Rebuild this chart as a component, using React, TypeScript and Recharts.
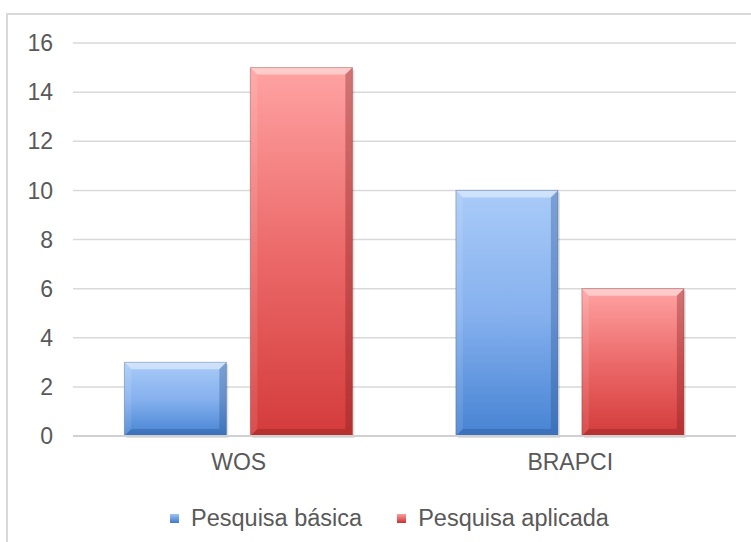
import { BarChart, Bar, XAxis, YAxis, CartesianGrid, Legend } from "recharts";

const categories = ["WOS", "BRAPCI"];
const basica = [3, 10];
const aplicada = [15, 6];
const yTicks = [0, 2, 4, 6, 8, 10, 12, 14, 16];

const seriesNames = { basica: "Pesquisa básica", aplicada: "Pesquisa aplicada" };

const data = categories.map((name, i) => ({
  name,
  basica: basica[i],
  aplicada: aplicada[i],
}));

const textColor = "#595959";
const font = "'Liberation Sans', Arial, sans-serif";

// bar with a soft bevel, like the office 3D style
function BevelBar(props: any) {
  const { x, y, width, height, gradId, edge } = props;
  if (!height || height <= 0) return null;
  const b = Math.min(7, height / 3);
  return (
    <g>
      <rect x={x + 2} y={y + 2} width={width} height={height} fill="rgba(0,0,0,0.12)" />
      <rect x={x} y={y} width={width} height={height} fill={`url(#${gradId})`} />
      <polygon
        points={`${x},${y} ${x + width},${y} ${x + width - b},${y + b} ${x + b},${y + b}`}
        fill="rgba(255,255,255,0.45)"
      />
      <polygon
        points={`${x},${y} ${x + b},${y + b} ${x + b},${y + height - b} ${x},${y + height}`}
        fill="rgba(255,255,255,0.1)"
      />
      <polygon
        points={`${x + width},${y} ${x + width},${y + height} ${x + width - b},${y + height - b} ${x + width - b},${y + b}`}
        fill={edge}
      />
      <polygon
        points={`${x},${y + height} ${x + width},${y + height} ${x + width - b},${y + height - b} ${x + b},${y + height - b}`}
        fill={edge}
      />
      <rect x={x} y={y} width={width} height={height} fill="none" stroke={edge} strokeWidth={1} />
    </g>
  );
}

function LegendContent() {
  const items = [
    { label: seriesNames.basica, c1: "#9ec4f5", c2: "#3f79c8" },
    { label: seriesNames.aplicada, c1: "#ff9c9c", c2: "#c83232" },
  ];
  return (
    <div style={{ display: "flex", alignItems: "center", height: 30, fontFamily: font, fontSize: 23.5, color: textColor, whiteSpace: "nowrap" }}>
      {items.map((it, i) => (
        <div key={it.label} style={{ display: "flex", alignItems: "center", marginRight: i === 0 ? 35 : 0 }}>
          <span
            style={{
              display: "inline-block",
              width: 9,
              height: 9,
              marginRight: 12,
              background: `linear-gradient(${it.c1}, ${it.c2})`,
            }}
          />
          <span>{it.label}</span>
        </div>
      ))}
    </div>
  );
}

export default function App() {
  return (
    <div
      style={{
        position: "absolute",
        left: 0,
        top: 0,
        width: 751,
        height: 542,
        overflow: "hidden",
        background: "#fff",
      }}
    >
      <div
        style={{
          position: "absolute",
          left: 6,
          top: 13,
          width: 800,
          height: 600,
          border: "2px solid #d9d9d9",
        }}
      />
      <div style={{ position: "absolute", left: 0, top: 0 }}>
        <BarChart
          width={751}
          height={542}
          data={data}
          margin={{ top: 43, right: 15, bottom: 26, left: 0 }}
          barCategoryGap="15.5%"
          barGap={24}
        >
          <defs>
            <linearGradient id="gBlue" x1="0" y1="0" x2="0" y2="1">
              <stop offset="0%" stopColor="#a9cbf8" />
              <stop offset="50%" stopColor="#86b1ee" />
              <stop offset="100%" stopColor="#4683d3" />
            </linearGradient>
            <linearGradient id="gRed" x1="0" y1="0" x2="0" y2="1">
              <stop offset="0%" stopColor="#ffa3a3" />
              <stop offset="50%" stopColor="#ec6a6a" />
              <stop offset="100%" stopColor="#d43b3b" />
            </linearGradient>
          </defs>
          <CartesianGrid vertical={false} stroke="#d9d9d9" strokeWidth={1.5} />
          <XAxis
            dataKey="name"
            height={50}
            tickLine={false}
            tickSize={0}
            tickMargin={18}
            axisLine={{ stroke: "#d0d0d0", strokeWidth: 2 }}
            tick={{ fill: textColor, fontSize: 23, fontFamily: font }}
          />
          <YAxis
            width={73}
            domain={[0, 16]}
            ticks={yTicks}
            tickLine={false}
            axisLine={false}
            tickSize={0}
            tickMargin={20}
            tick={{ fill: textColor, fontSize: 23, fontFamily: font }}
          />
          <Legend
            verticalAlign="bottom"
            content={() => <LegendContent />}
            wrapperStyle={{ top: 503, left: 170, width: "auto", height: 30 }}
          />
          <Bar
            dataKey="basica"
            name={seriesNames.basica}
            isAnimationActive={false}
            shape={(p: any) => <BevelBar {...p} gradId="gBlue" edge="rgba(40,80,140,0.35)" />}
          />
          <Bar
            dataKey="aplicada"
            name={seriesNames.aplicada}
            isAnimationActive={false}
            shape={(p: any) => <BevelBar {...p} gradId="gRed" edge="rgba(130,30,30,0.35)" />}
          />
        </BarChart>
      </div>
    </div>
  );
}
